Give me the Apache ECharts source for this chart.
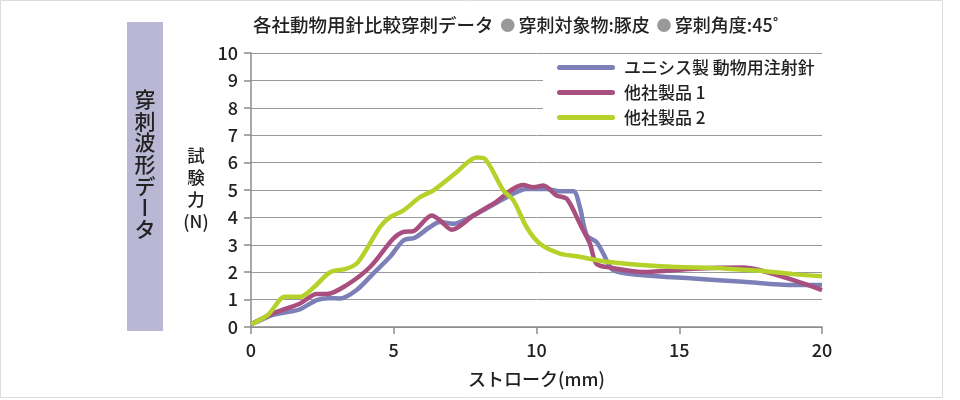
<!DOCTYPE html>
<html><head><meta charset="utf-8">
<script src="https://cdn.jsdelivr.net/npm/echarts@6/dist/echarts.min.js"></script>
<style>html,body{margin:0;padding:0;background:#fff}#c{width:960px;height:400px}</style>
</head><body><div id="c"></div>
<script>
var FONT = '"Noto Sans CJK JP", "Noto Sans", sans-serif';
var titleText = '各社動物用針比較穿刺データ';
var subtitle1 = '穿刺対象物:豚皮';
var subtitle2 = '穿刺角度:45˚';
var sideLabel = ['穿','刺','波','形','デ','ー','タ'];
var yAxisName = ['試','験','力','(N)'];
var xAxisName = 'ストローク(mm)';
var seriesNames = ['ユニシス製 動物用注射針', '他社製品 1', '他社製品 2'];

var unisys = [[0,0.1],[0.4,0.28],[0.8,0.45],[1.37,0.56],[1.72,0.65],[2.3,0.98],[2.7,1.05],[3.12,1.04],[3.7,1.35],[4.28,1.95],[4.87,2.56],[5.34,3.16],[5.74,3.26],[6.27,3.65],[6.62,3.83],[7.09,3.77],[7.79,4.07],[8.96,4.74],[9.65,5.04],[10.36,5.04],[10.82,4.95],[11.29,4.95],[11.52,4.37],[11.76,3.35],[12.1,3.1],[12.34,2.68],[12.69,2.07],[13.74,1.89],[15.49,1.77],[17.24,1.65],[19.0,1.53],[20,1.53]];
var other1 = [[0,0.1],[0.78,0.5],[1.72,0.86],[2.3,1.2],[2.65,1.2],[3.35,1.53],[4.17,2.19],[4.98,3.22],[5.34,3.47],[5.69,3.5],[6.33,4.07],[6.62,3.89],[7.03,3.55],[7.79,4.07],[8.49,4.5],[9.54,5.18],[9.89,5.1],[10.24,5.16],[10.7,4.8],[11.06,4.68],[11.52,3.77],[11.87,3.04],[12.1,2.31],[12.57,2.17],[13.74,2.01],[15.49,2.13],[17.24,2.17],[17.83,2.07],[19.0,1.71],[20,1.35]];
var other2 = [[0,0.1],[0.6,0.45],[1.19,1.1],[1.72,1.1],[2.2,1.45],[2.77,2.0],[3.35,2.13],[3.75,2.37],[4.52,3.65],[4.87,4.01],[5.33,4.25],[5.92,4.74],[6.38,4.98],[7.2,5.65],[7.9,6.19],[8.2,6.13],[8.84,4.98],[9.19,4.62],[9.65,3.65],[10.12,3.04],[10.82,2.68],[11.4,2.58],[12.46,2.38],[14.33,2.22],[16.66,2.13],[17.83,2.05],[19.0,1.93],[20,1.85]];

var colors = ['#7c80b6', '#a94f80', '#b4d22a'];
var TXT = '#222';
var chart = echarts.init(document.getElementById('c'));

var graphics = [
  {type:'rect', shape:{x:0.5,y:0.5,width:942,height:397}, style:{fill:'none', stroke:'#dcdcdc', lineWidth:1}, silent:true},
  {type:'rect', shape:{x:127,y:22,width:36,height:309}, style:{fill:'#b9b7d3'}},
  {type:'text', left:253, top:16, style:{
    text:'{t|'+titleText+'}  {b|●} {s|'+subtitle1+'}  {b|●} {s|'+subtitle2+'}',
    rich:{t:{fontSize:18.5, fontFamily:FONT, fontWeight:500, fill:TXT},
          s:{fontSize:18, fontFamily:FONT, fontWeight:500, fill:TXT},
          b:{fontSize:15, fontFamily:FONT, fill:'#999'}}
  }}
];
sideLabel.forEach(function(ch, i){
  graphics.push({type:'text', x:145, y:99 + i*21.7, rotation: ch === 'ー' ? -Math.PI/2 : 0,
    style:{text:ch, fontSize:21, fontFamily:FONT, fontWeight:500, fill:TXT, align:'center', verticalAlign:'middle'}});
});
yAxisName.forEach(function(ch, i){
  graphics.push({type:'text', x:196, y:155 + i*22,
    style:{text:ch, fontSize:17.5, fontFamily:FONT, fontWeight:500, fill:TXT, align:'center', verticalAlign:'middle'}});
});

chart.setOption({
  animation:false,
  textStyle:{fontFamily:FONT},
  grid:{left:251, right:138, top:53, bottom:73, containLabel:false},
  graphic:graphics,
  legend:{
    orient:'vertical', left:543, top:54, padding:[4,9,6,14],
    backgroundColor:'#fff', itemGap:6, itemWidth:58, itemHeight:5,
    icon:'path://M2.5,0 L55.5,0 A2.5,2.5 0 0 1 55.5,5 L2.5,5 A2.5,2.5 0 0 1 2.5,0 Z',
    textStyle:{fontSize:17, color:TXT, fontFamily:FONT, fontWeight:500, lineHeight:19, padding:[0,0,0,4]},
    data:seriesNames
  },
  xAxis:{
    type:'value', min:0, max:20, interval:5,
    name:xAxisName, nameLocation:'middle', nameGap:43,
    nameTextStyle:{fontSize:18, color:TXT, fontFamily:FONT, fontWeight:500},
    axisLine:{show:true, lineStyle:{color:'#8c8c8c', width:1.5}},
    axisTick:{show:true, length:7, lineStyle:{color:'#8c8c8c', width:1.5}},
    axisLabel:{fontSize:18, color:TXT, margin:14, fontFamily:FONT, fontWeight:500},
    splitLine:{show:false}
  },
  yAxis:{
    type:'value', min:0, max:10, interval:1,
    axisLine:{show:true, lineStyle:{color:'#8c8c8c', width:1.5}},
    axisTick:{show:true, length:7, lineStyle:{color:'#8c8c8c', width:1.5}},
    axisLabel:{fontSize:18, color:TXT, margin:13, fontFamily:FONT, fontWeight:500},
    splitLine:{show:true, lineStyle:{color:'#999', width:1}}
  },
  series:[
    {name:seriesNames[0], type:'line', data:unisys, smooth:0.3, showSymbol:false, lineStyle:{width:4.5, color:colors[0]}, itemStyle:{color:colors[0]}},
    {name:seriesNames[1], type:'line', data:other1, smooth:0.3, showSymbol:false, lineStyle:{width:4.5, color:colors[1]}, itemStyle:{color:colors[1]}},
    {name:seriesNames[2], type:'line', data:other2, smooth:0.3, showSymbol:false, lineStyle:{width:4.5, color:colors[2]}, itemStyle:{color:colors[2]}}
  ]
});
</script></body></html>
